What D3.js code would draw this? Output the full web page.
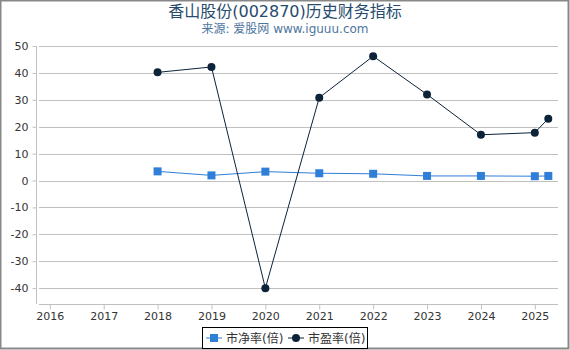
<!DOCTYPE html>
<html>
<head>
<meta charset="utf-8">
<script src="https://cdn.jsdelivr.net/npm/d3@7"></script>
<style>
  body { margin: 0; background: #fff; }
  svg { display: block; font-family: "DejaVu Sans", "Noto Sans CJK SC", sans-serif; }
</style>
</head>
<body>
<div id="chart"></div>
<script>
// years are positions on the time axis, the last point sits a quarter into 2025
const years = [2018, 2019, 2020, 2021, 2022, 2023, 2024, 2025, 2025.25];
const pbValues = [3.4, 1.9, 3.3, 2.7, 2.5, 1.7, 1.7, 1.6, 1.7];
const peValues = [40.2, 42.2, -40.0, 30.8, 46.2, 32.0, 17.0, 17.8, 23.0];
const xTicks = [2016, 2017, 2018, 2019, 2020, 2021, 2022, 2023, 2024, 2025];
const yTicks = [-40, -30, -20, -10, 0, 10, 20, 30, 40, 50];
const seriesNames = ["市净率(倍)", "市盈率(倍)"];

const W = 570, H = 350;
const margin = { left: 39, right: 12, top: 46, bottom: 46 };

const svg = d3.select("#chart").append("svg")
    .attr("width", W)
    .attr("height", H);

// outer frame
svg.append("rect")
    .attr("x", 0.5).attr("y", 0.5)
    .attr("width", W - 2).attr("height", H - 2)
    .attr("fill", "#fff")
    .attr("stroke", "#888")
    .attr("stroke-width", 2);

// title
svg.append("text")
    .attr("x", W / 2).attr("y", 17)
    .attr("text-anchor", "middle")
    .attr("fill", "#274b6d")
    .style("font-size", "16px")
    .text("香山股份(002870)历史财务指标");

svg.append("text")
    .attr("x", W / 2).attr("y", 33)
    .attr("text-anchor", "middle")
    .attr("fill", "#4d759e")
    .style("font-size", "12px")
    .text("来源: 爱股网 www.iguuu.com");

const x = d3.scaleLinear()
    .domain([2015.8, 2025.43])
    .range([margin.left, W - margin.right]);

const y = d3.scaleLinear()
    .domain([-45.9, 50])
    .range([H - margin.bottom, margin.top]);

// grid
svg.append("g")
    .selectAll("line")
    .data(yTicks)
    .join("line")
    .attr("x1", margin.left)
    .attr("x2", W - margin.right)
    .attr("y1", (d) => Math.round(y(d)) + 0.5)
    .attr("y2", (d) => Math.round(y(d)) + 0.5)
    .attr("stroke", "#c0c0c0")
    .attr("stroke-width", 1);

// y axis, plain hyphen for negatives like the original
const yAxis = svg.append("g")
    .attr("transform", `translate(${margin.left - 2.5},0)`)
    .call(d3.axisLeft(y).tickValues(yTicks).tickFormat((d) => String(d)).tickSize(4).tickPadding(4));
yAxis.select(".domain").attr("stroke", "#c0c0c0").attr("d", `M0,${y(50)}V${H - margin.bottom}`);
yAxis.selectAll(".tick line").attr("stroke", "#c0c0c0");
yAxis.selectAll(".tick text")
    .attr("fill", "#333")
    .style("font-size", "11px")
    .style("font-family", "DejaVu Sans");

// x axis
const xAxis = svg.append("g")
    .attr("transform", `translate(0,${H - margin.bottom + 0.5})`)
    .call(d3.axisBottom(x).tickValues(xTicks).tickFormat(d3.format("d")).tickSize(5).tickPadding(3));
xAxis.select(".domain").attr("stroke", "#c0c0c0").attr("d", `M${margin.left},0H${W - margin.right}`);
xAxis.selectAll(".tick line").attr("stroke", "#c0c0c0");
xAxis.selectAll(".tick text")
    .attr("fill", "#333")
    .style("font-size", "11px")
    .style("font-family", "DejaVu Sans");

const pbColor = "#2f7ed8";
const peColor = "#0d233a";

const line = d3.line()
    .x((d) => x(d[0]))
    .y((d) => y(d[1]));

const pbData = years.map((yr, i) => [yr, pbValues[i]]);
const peData = years.map((yr, i) => [yr, peValues[i]]);

svg.append("path")
    .datum(pbData)
    .attr("d", line)
    .attr("fill", "none")
    .attr("stroke", pbColor)
    .attr("stroke-width", 1);

svg.append("path")
    .datum(peData)
    .attr("d", line)
    .attr("fill", "none")
    .attr("stroke", peColor)
    .attr("stroke-width", 1);

svg.append("g")
    .selectAll("rect")
    .data(pbData)
    .join("rect")
    .attr("x", (d) => x(d[0]) - 4)
    .attr("y", (d) => y(d[1]) - 4)
    .attr("width", 8)
    .attr("height", 8)
    .attr("fill", pbColor);

svg.append("g")
    .selectAll("circle")
    .data(peData)
    .join("circle")
    .attr("cx", (d) => x(d[0]))
    .attr("cy", (d) => y(d[1]))
    .attr("r", 4)
    .attr("fill", peColor);

// legend
const legend = svg.append("g");
legend.append("rect")
    .attr("x", 202.5).attr("y", 327.5)
    .attr("width", 165).attr("height", 21)
    .attr("fill", "#fff")
    .attr("stroke", "#000")
    .attr("stroke-width", 1);

const items = [
    { name: seriesNames[0], color: pbColor, shape: "square", x: 206 },
    { name: seriesNames[1], color: peColor, shape: "circle", x: 288 },
];
items.forEach((it) => {
    const g = legend.append("g").attr("transform", `translate(${it.x},338)`);
    g.append("line")
        .attr("x1", 0).attr("x2", 16)
        .attr("stroke", it.color)
        .attr("stroke-width", 1);
    if (it.shape === "square") {
        g.append("rect").attr("x", 4).attr("y", -4).attr("width", 8).attr("height", 8).attr("fill", it.color);
    } else {
        g.append("circle").attr("cx", 8).attr("r", 4).attr("fill", it.color);
    }
    g.append("text")
        .attr("x", 20).attr("y", 5)
        .attr("fill", "#333")
        .style("font-size", "12px")
        .text(it.name);
});
</script>
</body>
</html>
